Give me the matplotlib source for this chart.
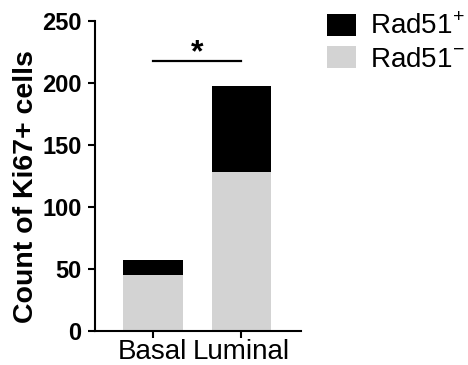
import matplotlib.pyplot as plt
from matplotlib.patches import Patch

# ---- data ----
groups = ["Basal", "Luminal"]
rad51_neg = [45, 128]
rad51_pos = [12, 70]
sig_height = 218

plt.rcParams['font.family'] = ['Liberation Sans', 'DejaVu Sans']
plt.rcParams['mathtext.fontset'] = 'custom'
plt.rcParams['mathtext.rm'] = 'Liberation Sans'

fig = plt.figure(figsize=(4.68, 3.65), dpi=100)
ax = fig.add_axes([0.204, 0.093, 0.44, 0.849])

x = range(len(groups))
ax.bar(x, rad51_neg, width=0.67, color="#d3d3d3", edgecolor="none")
ax.bar(x, rad51_pos, bottom=rad51_neg, width=0.67, color="black", edgecolor="none")

# significance bar
ax.plot([0, 1], [sig_height, sig_height], color="black", lw=1.6, clip_on=False)
ax.text(0.5, 218, "*", ha="center", va="baseline", fontsize=23, fontweight="bold")

ax.set_xlim(-0.65, 1.68)
ax.set_ylim(0, 250)
ax.set_yticks([0, 50, 100, 150, 200, 250])
ax.set_xticks(list(x))
ax.set_xticklabels(groups, fontsize=20)
for lab in ax.get_yticklabels():
    lab.set_fontweight("bold")
    lab.set_fontsize(17)
ax.set_ylabel("Count of Ki67+ cells", fontsize=20.5, fontweight="bold")
ax.yaxis.set_label_coords(-0.275, 0.465)

for s in ["top", "right"]:
    ax.spines[s].set_visible(False)
for s in ["left", "bottom"]:
    ax.spines[s].set_linewidth(1.5)
ax.tick_params(width=1.5, length=5, direction="out")
ax.tick_params(axis="y", pad=5)
ax.tick_params(axis="x", pad=1)

handles = [Patch(facecolor="black", label="Rad51$^{+}$"),
           Patch(facecolor="#d3d3d3", label="Rad51$^{-}$")]
fig.legend(handles=handles, loc="upper left", bbox_to_anchor=(0.699, 0.963),
           frameon=False, fontsize=20, handlelength=1.04, handleheight=0.86,
           handletextpad=0.5, labelspacing=0.2, borderpad=0, borderaxespad=0)

fig.savefig("out.png", dpi=100)
